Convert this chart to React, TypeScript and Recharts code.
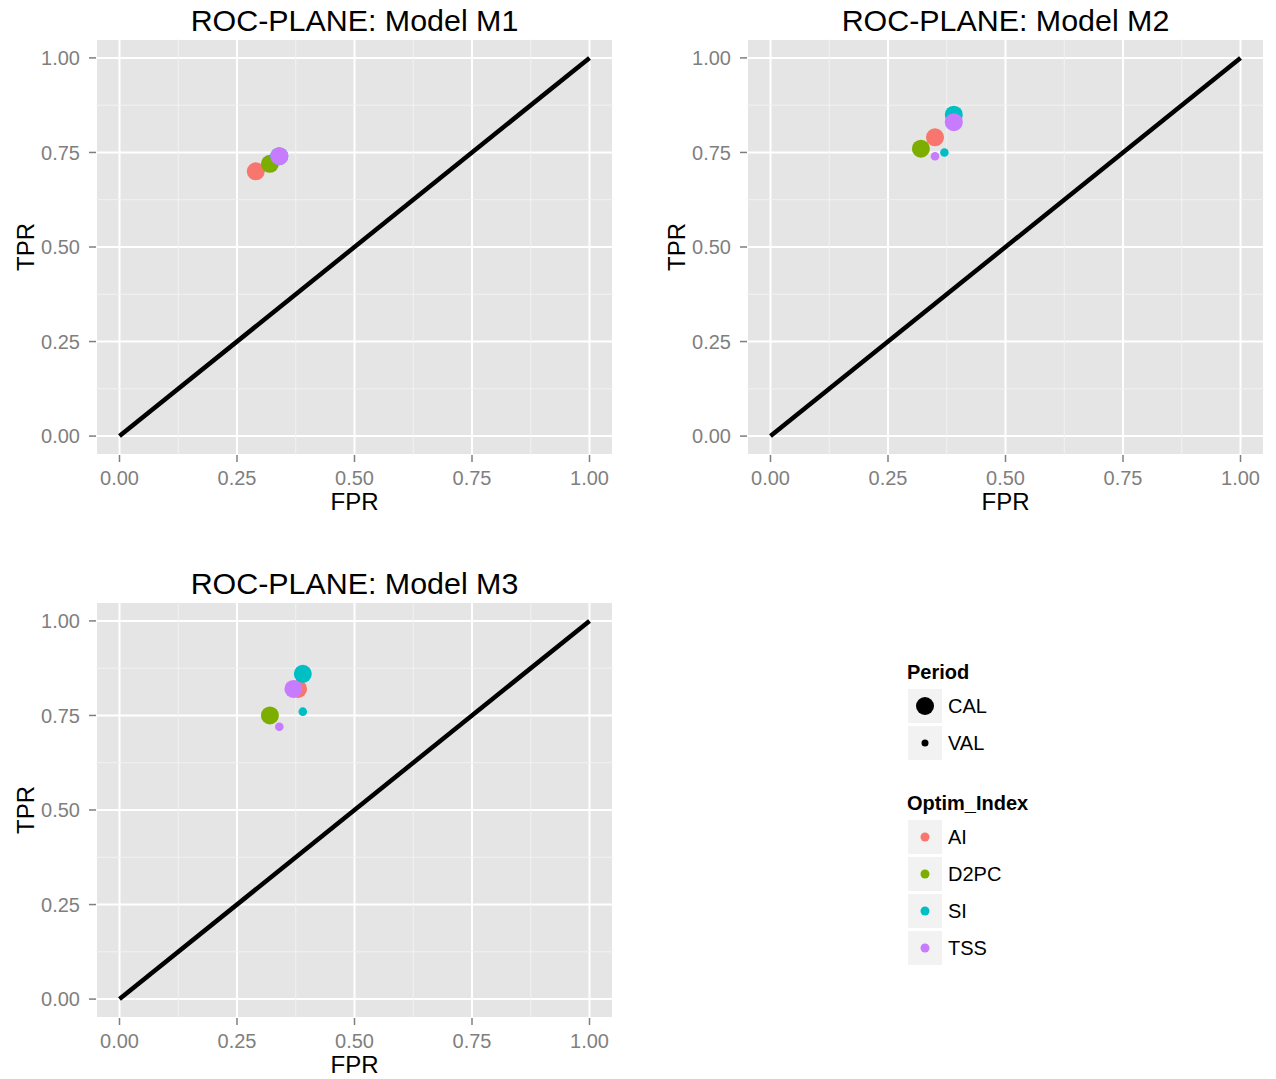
import React from 'react';
import { ScatterChart, Scatter, XAxis, YAxis, CartesianGrid, ReferenceLine } from 'recharts';

// ggplot default hues for the four optimisation indices
const indexNames = ['AI', 'D2PC', 'SI', 'TSS'];
const indexColors = ['#F8766D', '#7CAE00', '#00BFC4', '#C77CFF'];
const periodNames = ['CAL', 'VAL'];
const axisTicks = [0, 0.25, 0.5, 0.75, 1];
const minorTicks = [0.125, 0.375, 0.625, 0.875];

interface RocPoint {
  index: string;
  period: string;
  fpr: number;
  tpr: number;
}

const m1Points: RocPoint[] = [
  { index: 'AI', period: 'CAL', fpr: 0.29, tpr: 0.70 },
  { index: 'D2PC', period: 'CAL', fpr: 0.32, tpr: 0.72 },
  { index: 'SI', period: 'CAL', fpr: 0.34, tpr: 0.74 },
  { index: 'TSS', period: 'CAL', fpr: 0.34, tpr: 0.74 },
];

const m2Points: RocPoint[] = [
  { index: 'AI', period: 'CAL', fpr: 0.35, tpr: 0.79 },
  { index: 'D2PC', period: 'CAL', fpr: 0.32, tpr: 0.76 },
  { index: 'SI', period: 'CAL', fpr: 0.39, tpr: 0.85 },
  { index: 'TSS', period: 'CAL', fpr: 0.39, tpr: 0.83 },
  { index: 'SI', period: 'VAL', fpr: 0.37, tpr: 0.75 },
  { index: 'TSS', period: 'VAL', fpr: 0.35, tpr: 0.74 },
];

const m3Points: RocPoint[] = [
  { index: 'AI', period: 'CAL', fpr: 0.38, tpr: 0.82 },
  { index: 'D2PC', period: 'CAL', fpr: 0.32, tpr: 0.75 },
  { index: 'SI', period: 'CAL', fpr: 0.39, tpr: 0.86 },
  { index: 'TSS', period: 'CAL', fpr: 0.37, tpr: 0.82 },
  { index: 'SI', period: 'VAL', fpr: 0.39, tpr: 0.76 },
  { index: 'TSS', period: 'VAL', fpr: 0.34, tpr: 0.72 },
];

const FONT = '"Liberation Sans", Arial, Helvetica, sans-serif';
const GREY = '#7F7F7F';
const W = 640;
const H = 520;

const colorOf = (idx: string) => indexColors[indexNames.indexOf(idx)] || '#000';

const renderDot = (props: any) => {
  const p = props.payload ?? props;
  if (props.cx == null || props.cy == null) return <g />;
  return <circle cx={props.cx} cy={props.cy} r={p.period === 'CAL' ? 9 : 4.3} fill={colorOf(p.index)} />;
};

const fmt = (v: number) => v.toFixed(2);

const Panel: React.FC<{ title: string; points: RocPoint[]; left: number; top: number }> = ({ title, points, left, top }) => (
  <div style={{ position: 'absolute', left, top, width: W, height: H }}>
    <div
      style={{
        position: 'absolute', left: 96, top: 2, width: 517, textAlign: 'center',
        fontSize: 30.4, lineHeight: '36px', color: '#000', zIndex: 2,
      }}
    >
      {title}
    </div>
    <ScatterChart width={W} height={H} margin={{ top: 39, right: 27, bottom: 0, left: 0 }}>
      <CartesianGrid stroke="#fff" strokeWidth={2} fill="#E5E5E5" />
      {minorTicks.map(t => (
        <ReferenceLine key={'mx' + t} x={t} stroke="#F2F2F2" strokeWidth={1} />
      ))}
      {minorTicks.map(t => (
        <ReferenceLine key={'my' + t} y={t} stroke="#F2F2F2" strokeWidth={1} />
      ))}
      <XAxis
        type="number" dataKey="fpr" domain={[-0.05, 1.05]} ticks={axisTicks} allowDataOverflow
        tickFormatter={fmt} height={65} tickSize={7} tickMargin={9} axisLine={false}
        tickLine={{ stroke: GREY, strokeWidth: 1.5 }}
        tick={{ fill: GREY, fontSize: 20, fontFamily: FONT }}
        label={{ value: 'FPR', position: 'insideBottom', offset: 10, fill: '#000', fontSize: 24, fontFamily: FONT }}
      />
      <YAxis
        type="number" dataKey="tpr" domain={[-0.05, 1.05]} ticks={axisTicks} allowDataOverflow
        tickFormatter={fmt} width={96} tickSize={7} tickMargin={9} axisLine={false}
        tickLine={{ stroke: GREY, strokeWidth: 1.5 }}
        tick={{ fill: GREY, fontSize: 20, fontFamily: FONT }}
        label={{
          value: 'TPR', angle: -90, position: 'insideLeft', offset: 25, fill: '#000', fontSize: 24,
          fontFamily: FONT, style: { textAnchor: 'middle' },
        }}
      />
      <ReferenceLine segment={[{ x: 0, y: 0 }, { x: 1, y: 1 }]} stroke="#000" strokeWidth={4.5} />
      <Scatter data={points} isAnimationActive={false} shape={renderDot} />
    </ScatterChart>
  </div>
);

const LegendKey: React.FC<{ top: number; label: string; r: number; color: string }> = ({ top, label, r, color }) => (
  <>
    <div style={{ position: 'absolute', left: 908, top, width: 34, height: 34, background: '#F2F2F2' }}>
      <svg width={34} height={34}>
        <circle cx={17} cy={17} r={r} fill={color} />
      </svg>
    </div>
    <div style={{ position: 'absolute', left: 948, top, height: 34, lineHeight: '34px', fontSize: 20 }}>{label}</div>
  </>
);

const App: React.FC = () => (
  <div style={{ position: 'absolute', left: 0, top: 0, width: 1276, height: 1079, background: '#fff', fontFamily: FONT, overflow: 'hidden' }}>
    <Panel title="ROC-PLANE: Model M1" points={m1Points} left={0} top={0} />
    <Panel title="ROC-PLANE: Model M2" points={m2Points} left={651} top={0} />
    <Panel title="ROC-PLANE: Model M3" points={m3Points} left={0} top={563} />

    <div style={{ position: 'absolute', left: 907, top: 660, fontSize: 20, fontWeight: 'bold', lineHeight: '24px' }}>Period</div>
    {periodNames.map((p, i) => (
      <LegendKey key={p} top={689 + i * 37} label={p} r={p === 'CAL' ? 9 : 3.5} color="#000" />
    ))}

    <div style={{ position: 'absolute', left: 907, top: 791, fontSize: 20, fontWeight: 'bold', lineHeight: '24px' }}>Optim_Index</div>
    {indexNames.map((n, i) => (
      <LegendKey key={n} top={820 + i * 37} label={n} r={4.5} color={indexColors[i]} />
    ))}
  </div>
);

export default App;
